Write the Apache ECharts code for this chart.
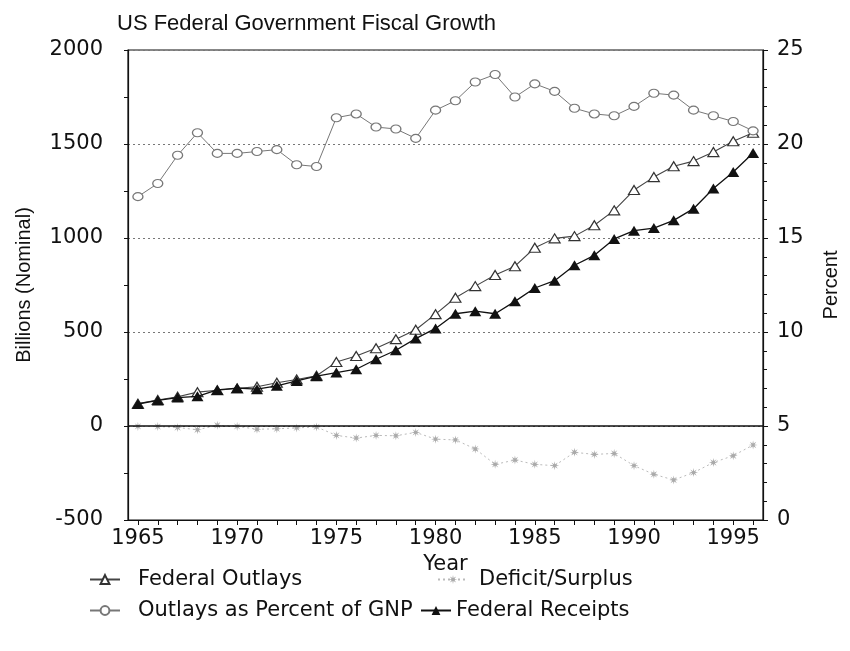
<!DOCTYPE html>
<html>
<head>
<meta charset="utf-8">
<script src="https://cdn.jsdelivr.net/npm/echarts@6/dist/echarts.min.js"></script>
<style>
html,body{margin:0;padding:0;background:#fff;}
#chart{width:850px;height:651px;}
</style>
</head>
<body>
<div id="chart"></div>
<script>
// ---- Data ----
const years = [1965,1966,1967,1968,1969,1970,1971,1972,1973,1974,1975,1976,1977,1978,1979,1980,
               1981,1982,1983,1984,1985,1986,1987,1988,1989,1990,1991,1992,1993,1994,1995,1996];
const federalOutlays = [119,138,156,180,190,200,209,230,247,267,340,372,414,462,512,595,
                        682,744,803,850,948,998,1010,1068,1147,1255,1324,1382,1409,1457,1515,1560];
const deficitSurplus = [-2,-3,-8,-20,4,-2,-17,-15,-10,-5,-50,-64,-50,-52,-34,-70,
                        -74,-122,-204,-181,-204,-211,-140,-151,-146,-211,-257,-287,-248,-194,-158,-101];
const outlaysPctGNP = [17.2,17.9,19.4,20.6,19.5,19.5,19.6,19.7,18.9,18.8,21.4,21.6,20.9,20.8,20.3,21.8,
                       22.3,23.3,23.7,22.5,23.2,22.8,21.9,21.6,21.5,22.0,22.7,22.6,21.8,21.5,21.2,20.7];
const federalReceipts = [117,136,151,158,192,202,196,214,240,265,284,302,355,403,465,519,
                         597,611,597,663,734,773,855,908,995,1039,1053,1094,1156,1263,1351,1452];
const yearTickLabels = [1965,1970,1975,1980,1985,1990,1995];
const billionsTicks = [-500,0,500,1000,1500,2000];
const percentTicks = [0,5,10,15,20,25];

const seriesNames = ['Federal Outlays','Deficit/Surplus','Outlays as Percent of GNP','Federal Receipts'];

// ---- Chart ----
const FONT = 'DejaVu Sans';
const TXT = '#111';
const pair = (arr) => years.map((y, i) => [y, arr[i]]);
const starPath = 'path://M20 10 L13.23 11.34 L17.07 17.07 L11.34 13.23 L10 20 L8.66 13.23 L2.93 17.07 L6.77 11.34 L0 10 L6.77 8.66 L2.93 2.93 L8.66 6.77 L10 0 L11.34 6.77 L17.07 2.93 L13.23 8.66 Z';

const chart = echarts.init(document.getElementById('chart'), null, {renderer: 'canvas'});

const legendCommon = {
  orient: 'horizontal', itemWidth: 30, itemHeight: 11, itemGap: 0,
  textStyle: {fontFamily: FONT, fontSize: 21, color: TXT, padding: [0, 0, 0, 13]},
  selectedMode: false
};

const option = {
  backgroundColor: '#fff',
  animation: false,
  title: {
    text: 'US Federal Government Fiscal Growth',
    left: 112, top: 8,
    textStyle: {fontFamily: 'Liberation Sans', fontSize: 22, fontWeight: 'normal', color: TXT}
  },
  legend: [
    Object.assign({}, legendCommon, {data: [seriesNames[0]], left: 84, top: 564}),
    Object.assign({}, legendCommon, {data: [seriesNames[1]], left: 432, top: 564,
      textStyle: {fontFamily: FONT, fontSize: 21, color: TXT, padding: [0, 0, 0, 6]}}),
    Object.assign({}, legendCommon, {data: [seriesNames[2]], left: 84, top: 595}),
    Object.assign({}, legendCommon, {data: [seriesNames[3]], left: 415, top: 595,
      textStyle: {fontFamily: FONT, fontSize: 21, color: TXT, padding: [0, 0, 0, 0]}})
  ],
  grid: {left: 128, right: 87, top: 50, bottom: 131, show: true, borderColor: '#111', borderWidth: 1.2},
  xAxis: [{
    type: 'value', min: 1964.5, max: 1996.5,
    name: 'Year', nameLocation: 'middle', nameGap: 26,
    nameTextStyle: {fontFamily: FONT, fontSize: 21, color: TXT},
    axisLine: {show: true, onZero: false, lineStyle: {color: '#111', width: 1.2}},
    axisTick: {show: true, length: 5, lineStyle: {color: '#111'}, customValues: years},
    axisLabel: {fontFamily: FONT, fontSize: 21, color: TXT, margin: 8, customValues: yearTickLabels,
                formatter: (v) => String(v)},
    splitLine: {show: false}
  }],
  yAxis: [
    {
      type: 'value', position: 'left', min: billionsTicks[0], max: billionsTicks[billionsTicks.length - 1], interval: 500,
      name: 'Billions (Nominal)', nameLocation: 'middle', nameRotate: 90, nameGap: 94,
      nameTextStyle: {fontFamily: 'Liberation Sans', fontSize: 20, color: TXT},
      axisLine: {show: true, lineStyle: {color: '#111', width: 1.2}},
      axisTick: {show: true, length: 4, lineStyle: {color: '#111'}},
      minorTick: {show: true, splitNumber: 2, length: 4, lineStyle: {color: '#111'}},
      axisLabel: {fontFamily: FONT, fontSize: 21, color: TXT, margin: 25, formatter: (v) => String(v)},
      splitLine: {show: true, lineStyle: {color: '#777', type: [2, 3], width: 1}}
    },
    {
      type: 'value', position: 'right', min: percentTicks[0], max: percentTicks[percentTicks.length - 1], interval: 5,
      name: 'Percent', nameLocation: 'middle', nameRotate: 90, nameGap: 58,
      nameTextStyle: {fontFamily: 'Liberation Sans', fontSize: 20, color: TXT},
      axisLine: {show: true, lineStyle: {color: '#111', width: 1.2}},
      axisTick: {show: true, length: 5, lineStyle: {color: '#111'}},
      minorTick: {show: true, splitNumber: 5, length: 4, lineStyle: {color: '#111'}},
      axisLabel: {fontFamily: FONT, fontSize: 21, color: TXT, margin: 14, formatter: (v) => String(v)},
      splitLine: {show: false}
    }
  ],
  series: [
    {
      name: seriesNames[0], type: 'line', yAxisIndex: 0, data: pair(federalOutlays),
      symbol: 'triangle', symbolSize: [11, 9], z: 3,
      itemStyle: {color: '#fff', borderColor: '#333', borderWidth: 1.2},
      lineStyle: {color: '#444', width: 1.1}
    },
    {
      name: seriesNames[1], type: 'line', yAxisIndex: 0, data: pair(deficitSurplus),
      symbol: starPath, symbolSize: 9, z: 2,
      itemStyle: {color: '#aaa'},
      lineStyle: {color: '#bbb', width: 1, type: [2, 3]},
      markLine: {
        silent: true, symbol: 'none', label: {show: false},
        lineStyle: {color: '#111', type: 'solid', width: 1.5},
        data: [{yAxis: 0}]
      }
    },
    {
      name: seriesNames[2], type: 'line', yAxisIndex: 1, data: pair(outlaysPctGNP),
      symbol: 'circle', symbolSize: [10, 8], z: 3,
      itemStyle: {color: '#fff', borderColor: '#777', borderWidth: 1.2},
      lineStyle: {color: '#777', width: 1}
    },
    {
      name: seriesNames[3], type: 'line', yAxisIndex: 0, data: pair(federalReceipts),
      symbol: 'triangle', symbolSize: [12, 10], z: 4,
      itemStyle: {color: '#111'},
      lineStyle: {color: '#111', width: 1.3}
    }
  ]
};
chart.setOption(option);
</script>
</body>
</html>
